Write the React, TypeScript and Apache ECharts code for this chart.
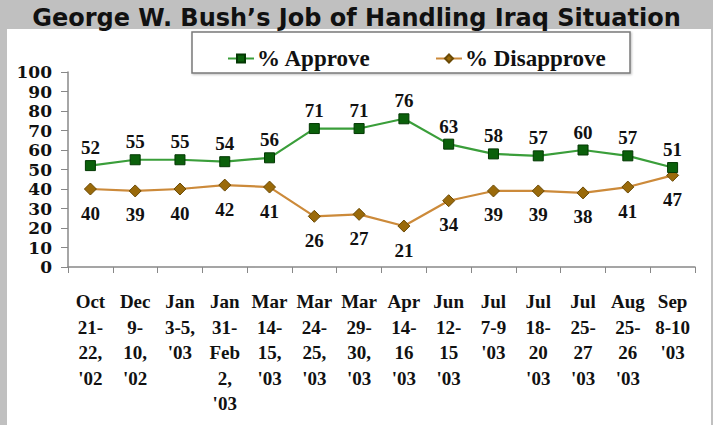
import React, { useEffect, useRef } from "react";
import * as echarts from "echarts";

const categories = [
  "Oct\n21-\n22,\n'02",
  "Dec\n9-\n10,\n'02",
  "Jan\n3-5,\n'03",
  "Jan\n31-\nFeb\n2,\n'03",
  "Mar\n14-\n15,\n'03",
  "Mar\n24-\n25,\n'03",
  "Mar\n29-\n30,\n'03",
  "Apr\n14-\n16\n'03",
  "Jun\n12-\n15\n'03",
  "Jul\n7-9\n'03",
  "Jul\n18-\n20\n'03",
  "Jul\n25-\n27\n'03",
  "Aug\n25-\n26\n'03",
  "Sep\n8-10\n'03",
];

const approve = [52, 55, 55, 54, 56, 71, 71, 76, 63, 58, 57, 60, 57, 51];
const disapprove = [40, 39, 40, 42, 41, 26, 27, 21, 34, 39, 39, 38, 41, 47];

const titleText = "George W. Bush\u2019s Job of Handling Iraq Situation";

const serif = "'Liberation Serif', 'Times New Roman', serif";

export default function App() {
  const ref = useRef<HTMLDivElement>(null);

  useEffect(() => {
    if (!ref.current) return;
    const chart = echarts.init(ref.current, undefined, { renderer: "svg" });
    const labelStyle = {
      show: true,
      color: "#111",
      fontFamily: serif,
      fontWeight: "bold" as const,
      fontSize: 19,
    };
    chart.setOption({
      animation: false,
      backgroundColor: "#c0c0c0",
      title: {
        text: titleText,
        left: "center",
        top: 1,
        textStyle: {
          fontFamily: "'DejaVu Sans', Verdana, sans-serif",
          fontWeight: "bold",
          fontSize: 24,
          color: "#111",
        },
      },
      graphic: [
        {
          type: "rect",
          z: -10,
          silent: true,
          shape: { x: 7, y: 29, width: 704, height: 396 },
          style: { fill: "#ffffff" },
        },
        {
          type: "rect",
          z: 1,
          silent: true,
          shape: { x: 192, y: 32, width: 438, height: 41 },
          style: {
            fill: "#ffffff",
            stroke: "#7a7a7a",
            lineWidth: 1.5,
            shadowColor: "rgba(0,0,0,0.25)",
            shadowBlur: 2,
            shadowOffsetX: 1,
            shadowOffsetY: 1,
          },
        },
      ],
      legend: [
        {
          data: ["% Approve"],
          left: 222,
          top: 42,
          itemWidth: 26,
          itemHeight: 10,
          itemGap: 5,
          textStyle: {
            fontFamily: serif,
            fontWeight: "bold",
            fontSize: 23,
            color: "#111",
            padding: [0, 0, 0, -2],
          },
        },
        {
          data: ["% Disapprove"],
          left: 430,
          top: 42,
          itemWidth: 26,
          itemHeight: 10,
          itemGap: 5,
          textStyle: {
            fontFamily: serif,
            fontWeight: "bold",
            fontSize: 23,
            color: "#111",
            padding: [0, 0, 0, -2],
          },
        },
      ],
      grid: { left: 68, right: 18, top: 72, bottom: 158, containLabel: false },
      xAxis: {
        type: "category",
        data: categories,
        boundaryGap: true,
        axisLine: { lineStyle: { color: "#888", width: 1.5 } },
        axisTick: { show: true, length: 6, interval: 0, lineStyle: { color: "#888" } },
        axisLabel: {
          interval: 0,
          margin: 22,
          color: "#111",
          fontFamily: serif,
          fontWeight: "bold",
          fontSize: 19,
          lineHeight: 25.5,
        },
      },
      yAxis: {
        type: "value",
        min: 0,
        max: 100,
        interval: 10,
        splitLine: { show: false },
        axisLine: { show: true, lineStyle: { color: "#888", width: 1.5 } },
        axisTick: { show: true, length: 7, lineStyle: { color: "#888" } },
        axisLabel: {
          margin: 16,
          color: "#111",
          fontFamily: "'DejaVu Serif', serif",
          fontWeight: "bold",
          fontSize: 17,
        },
      },
      series: [
        {
          name: "% Disapprove",
          type: "line",
          data: disapprove,
          z: 3,
          symbol: "diamond",
          symbolSize: 12,
          lineStyle: { color: "#cc8a3a", width: 2.2 },
          itemStyle: { color: "#9a6a0a", borderColor: "#6b4a05", borderWidth: 1 },
          label: { ...labelStyle, position: "bottom", distance: 8 },
        },
        {
          name: "% Approve",
          type: "line",
          data: approve,
          z: 4,
          symbol: "rect",
          symbolSize: 10,
          lineStyle: { color: "#3a9e3a", width: 2.2 },
          itemStyle: { color: "#0b600b", borderColor: "#033803", borderWidth: 1 },
          label: { ...labelStyle, position: "top", distance: 3 },
        },
      ],
    });
    return () => chart.dispose();
  }, []);

  return (
    <div
      ref={ref}
      style={{ position: "fixed", left: 0, top: 0, width: 713, height: 425 }}
    />
  );
}
